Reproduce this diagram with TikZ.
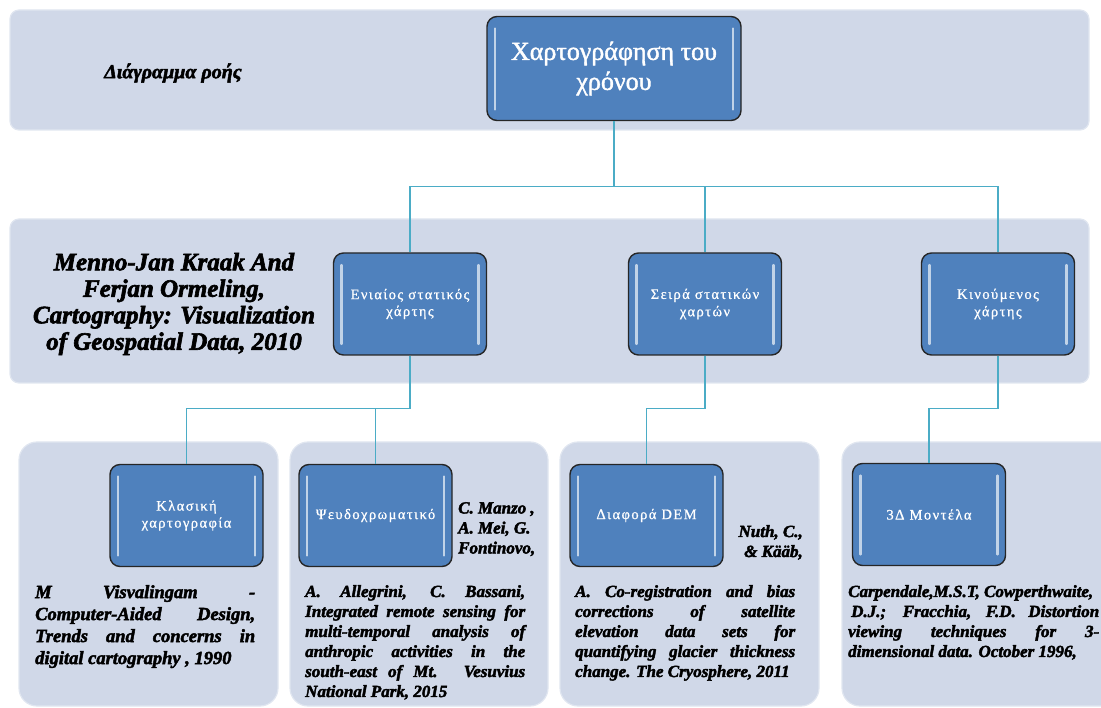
\documentclass[tikz,border=0pt]{standalone}
\usepackage{fontspec}
\setmainfont{Liberation Serif}
\newfontfamily\boxfont[LetterSpace=10, FakeBold=0.8]{Liberation Serif}
\newfontfamily\rootfont[FakeBold=1.5]{Liberation Serif}
\newfontfamily\reffont[BoldItalicFeatures={FakeBold=2.5}]{Liberation Serif}
\definecolor{bandfill}{HTML}{D0D8E8}
\definecolor{boxfill}{HTML}{4F81BD}
\definecolor{linkc}{HTML}{4BACC6}
\tikzset{
  band/.style={fill=bandfill, draw=white!35!bandfill, line width=1.2pt, rounded corners=9pt},
  panel/.style={fill=bandfill, draw=white!35!bandfill, line width=1.2pt, rounded corners=18pt},
  mapbox/.style={rectangle, fill=boxfill, draw=black!85, line width=1.4pt, rounded corners=10pt,
    text=white, align=center, inner sep=2pt,
    minimum width=153pt, minimum height=102pt,
    font=\boxfont\fontsize{14.5}{17}\selectfont,
    path picture={
      \draw[white!65!boxfill, line width=2.2pt, line cap=round]
        ([xshift=8pt,yshift=-12pt]path picture bounding box.north west) --
        ([xshift=8pt,yshift=11pt]path picture bounding box.south west);
      \draw[white!65!boxfill, line width=2.2pt, line cap=round]
        ([xshift=-8pt,yshift=-12pt]path picture bounding box.north east) --
        ([xshift=-8pt,yshift=11pt]path picture bounding box.south east);
    }},
  link/.style={draw=linkc, line width=1.3pt},
  ref/.style={inner sep=0pt, align=justify, anchor=north west,
    font=\reffont\fontsize{17}{20}\selectfont\bfseries\itshape,
    execute at begin node={\hyphenpenalty=10000\exhyphenpenalty=10000}},
  side/.style={inner sep=0pt, font=\reffont\fontsize{17}{20}\selectfont\bfseries\itshape}
}
\begin{document}
\begin{tikzpicture}[x=1pt,y=-1pt]
\useasboundingbox (0,0) rectangle (1101,708);

% background bands and panels
\path[band] (10,10) rectangle (1089,130);
\path[band] (10,219) rectangle (1089,383);
\path[panel] (19,442) rectangle (278,706);
\path[panel] (290,442) rectangle (548,706);
\path[panel] (560,442) rectangle (819,706);
\path[panel] (842,442) rectangle (1125,706);

% titles inside the bands
\node[font=\reffont\fontsize{20}{22}\selectfont\bfseries\itshape] (title) at (173,73) {Διάγραμμα ροής};
\node[align=center, inner sep=0pt, font=\reffont\fontsize{25}{26.5}\selectfont\bfseries\itshape] (source) at (174,304)
  {Menno-Jan Kraak And\\Ferjan Ormeling,\\Cartography: Visualization\\of Geospatial Data, 2010};

% boxes
\node[mapbox, minimum width=254pt, minimum height=104pt, font=\rootfont\fontsize{26}{30}\selectfont] (root) at (614,68.5)
  {Χαρτογράφηση του\\χρόνου};
\node[mapbox] (n1) at (410,304) {\raisebox{-3pt}{\shortstack{Ενιαίος στατικός\\[1pt]χάρτης}}};
\node[mapbox] (n2) at (705,304) {\raisebox{-3pt}{\shortstack{Σειρά στατικών\\[1pt]χαρτών}}};
\node[mapbox] (n3) at (998,304) {\raisebox{-3pt}{\shortstack{Κινούμενος\\[1pt]χάρτης}}};
\node[mapbox] (k1) at (186.5,515.5) {Κλασική\\χαρτογραφία};
\node[mapbox] (k2) at (375.5,515.5) {Ψευδοχρωματικό};
\node[mapbox] (k3) at (646.5,515.5) {Διαφορά DEM};
\node[mapbox] (k4) at (929,514.5) {3Δ Μοντέλα};

% connectors
\path (root.south) ++(0,65.5) coordinate (b0);
\draw[link] (root.south) -- (b0) -| (n1.north);
\draw[link] (b0) -| (n2.north);
\draw[link] (b0) -| (n3.north);
\path (n1.south) ++(0,53) coordinate (b1);
\draw[link] (n1.south) -- (b1) -| (k1.north);
\draw[link] (b1) -| (k2.north);
\path (n2.south) ++(0,53) coordinate (b2);
\draw[link] (n2.south) -- (b2) -| (k3.north);
\path (n3.south) ++(0,53) coordinate (b3);
\draw[link] (n3.south) -- (b3) -| (k4.north);

% references
\node[ref, text width=220pt, font=\reffont\fontsize{18.5}{22}\selectfont\bfseries\itshape] (r1) at (35,585)
  {M Visvalingam -\linebreak Computer-Aided Design,\linebreak Trends and concerns in\linebreak digital cartography , 1990};
\node[side, align=left, anchor=north west] (s2) at (458,502) {C. Manzo ,\\A. Mei, G.\\Fontinovo,};
\node[ref, text width=220pt] (r2) at (305,585)
  {A. Allegrini, C. Bassani,\linebreak Integrated remote sensing for\linebreak multi-temporal analysis of\linebreak anthropic activities in the\linebreak south-east of Mt. Vesuvius\linebreak National Park, 2015};
\node[side, align=right, anchor=north east] (s3) at (803,525) {Nuth, C.,\\\& Kääb,};
\node[ref, text width=220pt] (r3) at (575,585)
  {A. Co-registration and bias\linebreak corrections of satellite\linebreak elevation data sets for\linebreak quantifying glacier thickness\linebreak change. The Cryosphere, 2011};
\node[ref, text width=251pt] (r4) at (848,585)
  {Carpendale,M.S.T, Cowperthwaite,\newline\hspace*{3pt}D.J.; Fracchia, F.D. Distortion\linebreak viewing techniques for 3-\linebreak dimensional data. October 1996,};
\end{tikzpicture}
\end{document}
